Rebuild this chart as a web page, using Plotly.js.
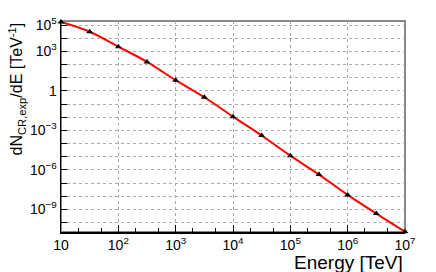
<!DOCTYPE html>
<html>
<head>
<meta charset="utf-8">
<script src="https://cdn.plot.ly/plotly-3.0.1.min.js"></script>
<style>html,body{margin:0;padding:0;background:#fff;}#chart{width:436px;height:272px;}</style>
</head>
<body>
<div id="chart"></div>
<script>
// Energy points (TeV)
const energy = [10, 31.6, 100, 316, 1000, 3162, 1e4, 3.16e4, 1e5, 3.16e5, 1e6, 3.16e6, 1e7];
// dN/dE values (TeV^-1)
const dNdE = [1.7e5, 3.1e4, 2.3e3, 1.6e2, 6.5, 0.33, 1.1e-2, 4.1e-4, 1.2e-5, 4.4e-7, 1.26e-8, 4.8e-10, 2.0e-11];

const xTickVals = [10, 1e2, 1e3, 1e4, 1e5, 1e6, 1e7];
const xTickText = ['10', '10<sup>2</sup>', '10<sup>3</sup>', '10<sup>4</sup>', '10<sup>5</sup>', '10<sup>6</sup>', '10<sup>7</sup>'];
const yTickVals = [1e-10, 1e-9, 1e-8, 1e-7, 1e-6, 1e-5, 1e-4, 1e-3, 1e-2, 1e-1, 1, 10, 1e2, 1e3, 1e4, 1e5];
const yTickText = ['', '10<sup>−9</sup>', '', '', '10<sup>−6</sup>', '', '', '10<sup>−3</sup>', '', '', '1', '', '', '10<sup>3</sup>', '', '10<sup>5</sup>'];

const font = 'Liberation Sans, Arial, Helvetica, sans-serif';

const traces = [
  {
    x: energy, y: dNdE, type: 'scatter', mode: 'lines',
    line: {color: '#ff0000', width: 2, shape: 'spline', smoothing: 1},
    hoverinfo: 'skip', showlegend: false
  },
  {
    x: energy, y: dNdE, type: 'scatter', mode: 'markers',
    marker: {symbol: 'triangle-up', size: 6, color: '#000'},
    showlegend: false, cliponaxis: false
  }
];

const layout = {
  width: 436, height: 272,
  margin: {l: 61, r: 31, t: 21, b: 40},
  paper_bgcolor: '#fff', plot_bgcolor: '#fff',
  font: {family: font, color: '#000', size: 14},
  xaxis: {
    type: 'log', range: [1, 7],
    tickvals: xTickVals, ticktext: xTickText,
    ticks: 'inside', ticklen: 7, tickcolor: '#000',
    showline: true, linecolor: '#000', linewidth: 1.5,
    showgrid: true, gridcolor: '#aaa', griddash: 'dot', gridwidth: 1,
    minor: {ticks: 'inside', ticklen: 4, tickcolor: '#000', showgrid: false},
    tickfont: {size: 14, family: font},
    zeroline: false
  },
  yaxis: {
    type: 'log', range: [-10.72, 5.31],
    tickvals: yTickVals, ticktext: yTickText,
    ticks: 'inside', ticklen: 6, tickcolor: '#000',
    showline: true, linecolor: '#000', linewidth: 1.5,
    showgrid: true, gridcolor: '#aaa', griddash: 'dot', gridwidth: 1,
    tickfont: {size: 14, family: font},
    zeroline: false
  },
  shapes: [
    {type: 'rect', xref: 'paper', yref: 'paper', x0: 0, x1: 1, y0: 0, y1: 1,
     line: {color: '#888', width: 2}, layer: 'below'}
  ],
  annotations: [
    {text: 'Energy [TeV]', xref: 'paper', yref: 'paper', x: 1.0, y: -0.145,
     xanchor: 'right', yanchor: 'middle', showarrow: false,
     font: {size: 19, family: font, color: '#000'}},
    {text: 'dN<sub>CR,exp</sub>/dE [TeV<sup>-1</sup>]', xref: 'paper', yref: 'paper',
     x: -0.128, y: 1.005, xanchor: 'center', yanchor: 'top', textangle: -90, showarrow: false,
     font: {size: 16, family: font, color: '#000'}}
  ]
};

Plotly.newPlot('chart', traces, layout, {staticPlot: true, displayModeBar: false});
</script>
</body>
</html>
